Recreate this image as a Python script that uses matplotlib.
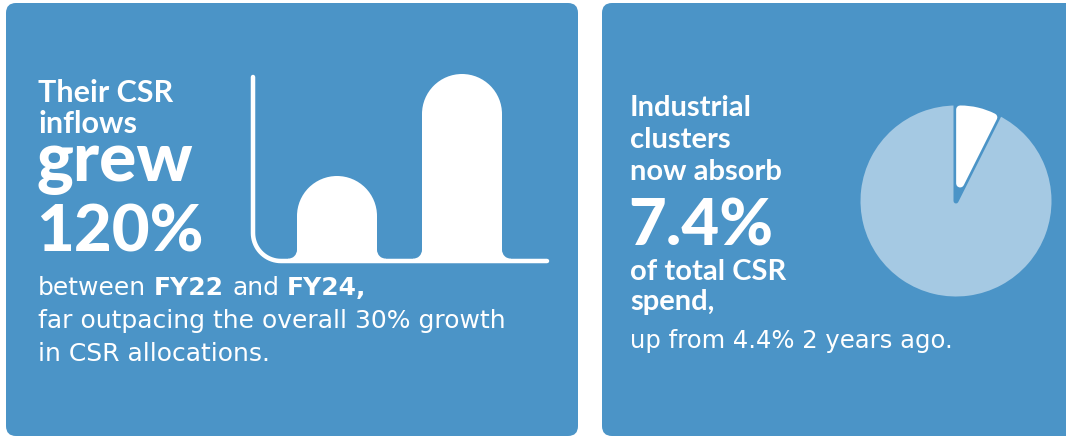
import numpy as np
import matplotlib
matplotlib.use("Agg")
import matplotlib.pyplot as plt
from matplotlib.patches import FancyBboxPatch, Ellipse, Rectangle

W, H, DPI = 1066, 438, 100
PANEL = "#4B94C7"
PIE_LIGHT = "#A5C9E3"
WHITE = "#FFFFFF"
HEAD_FONT = ["Lato", "DejaVu Sans"]
BODY_FONT = ["DejaVu Sans"]

# CSR inflows to the clusters, indexed to FY22 = 100 (grew 120%)
years = ["FY22", "FY24"]
inflow_index = [100, 220]

# share of total CSR spend absorbed by industrial clusters
cluster_share = 7.4
other_share = 100 - cluster_share

plt.rcParams["font.family"] = HEAD_FONT

fig = plt.figure(figsize=(W / DPI, H / DPI), dpi=DPI)
fig.patch.set_facecolor("white")

# canvas in pixel units for the two cards and all the copy
bg = fig.add_axes([0, 0, 1, 1])
bg.set_xlim(0, W)
bg.set_ylim(H, 0)
bg.axis("off")

for x0, x1 in [(6, 578), (602, 1090)]:
    bg.add_patch(FancyBboxPatch((x0, 3), x1 - x0, 433,
                                boxstyle="round,pad=0,rounding_size=10",
                                fc=PANEL, ec="none"))

renderer = fig.canvas.get_renderer()


def text_width(s, size, weight, family):
    t = bg.text(0, 0, s, fontsize=size, fontweight=weight, family=family)
    w = t.get_window_extent(renderer).width
    t.remove()
    return w


def write(x, y, parts, size, family=HEAD_FONT):
    """Draw a line made of (text, weight) runs, separated by spaces."""
    gap = (text_width("x x", size, "normal", family)
           - text_width("xx", size, "normal", family))
    for i, (s, weight) in enumerate(parts):
        bg.text(x, y, s, color=WHITE, fontsize=size, fontweight=weight,
                family=family, va="baseline", ha="left")
        x += text_width(s, size, weight, family) + gap


# left card copy
write(38, 102, [("Their CSR", "bold")], 22)
write(38, 133, [("inflows", "bold")], 22)
write(36, 181, [("grew", "black")], 50)
write(36, 252, [("120%", "black")], 47)
write(38, 295, [("between", "normal"), ("FY22", "bold"), ("and", "normal"),
                ("FY24,", "bold")], 18, BODY_FONT)
write(38, 328, [("far outpacing the overall 30% growth", "normal")], 18, BODY_FONT)
write(38, 361, [("in CSR allocations.", "normal")], 18, BODY_FONT)

# right card copy
write(630, 116, [("Industrial", "bold")], 21)
write(630, 148, [("clusters", "bold")], 21)
write(630, 180, [("now absorb", "bold")], 21)
write(628, 245, [("7.4%", "black")], 47)
write(630, 280, [("of total CSR", "bold")], 21)
write(630, 310, [("spend,", "bold")], 21)
write(630, 348, [("up from 4.4% 2 years ago.", "normal")], 17.5, BODY_FONT)

# --- bar chart: FY22 vs FY24 inflows with rounded tops ---
bx0, bx1, base_px, top_px = 253, 547, 261, 74
bax = fig.add_axes([bx0 / W, 1 - base_px / H, (bx1 - bx0) / W, (base_px - top_px) / H])
bax.set_xlim(-0.672, 1.68)
bax.set_ylim(0, max(inflow_index))
bax.axis("off")

o = bax.transData.transform((0, 0))
sx = bax.transData.transform((1, 0))[0] - o[0]   # px per x unit
sy = bax.transData.transform((0, 1))[1] - o[1]   # px per y unit

xs = np.arange(len(years))
vals = np.array(inflow_index, dtype=float)
bw = 0.64
ry = (bw / 2) * sx / sy
bax.bar(xs, vals - ry, width=bw, bottom=0, color=WHITE, clip_on=False)
for x, v in zip(xs, vals):
    bax.add_patch(Ellipse((x, v - ry), bw, 2 * ry, fc=WHITE, ec="none", clip_on=False))

# concave fillets where each bar meets the baseline
line_px = 4.5
f_px = 9
fx, fy, half = f_px / sx, f_px / sy, (line_px / 2) / sy
for x in xs:
    for s in (-1, 1):
        edge = x + s * bw / 2
        bax.add_patch(Rectangle((min(edge, edge + s * fx), 0), fx, half + fy,
                                fc=WHITE, ec="none", clip_on=False, zorder=3))
        bax.add_patch(Ellipse((edge + s * fx, half + fy), 2 * fx, 2 * fy,
                              fc=PANEL, ec="none", clip_on=False, zorder=4))

# axis line with a rounded corner
axis_top = (base_px - 77) / sy
R = 28
rx, ryc = R / sx, R / sy
xl, xr = bax.get_xlim()
t = np.linspace(np.pi, 1.5 * np.pi, 20)
arc_x = xl + rx + rx * np.cos(t)
arc_y = ryc + ryc * np.sin(t)
px = np.concatenate([[xl], arc_x, [xr]])
py = np.concatenate([[axis_top], arc_y, [0]])
bax.plot(px, py, color=WHITE, lw=line_px * 72 / DPI, solid_capstyle="round",
         solid_joinstyle="round", clip_on=False, zorder=5)

# --- pie: cluster share of total CSR spend ---
cx, cy, r_px = 956, 201, 98
pax = fig.add_axes([(cx - 1.25 * r_px) / W, 1 - (cy + 1.25 * r_px) / H,
                    2.5 * r_px / W, 2.5 * r_px / H])
wedges, _ = pax.pie([cluster_share, other_share], colors=[WHITE, PIE_LIGHT],
                    startangle=90, counterclock=False, explode=[18 / r_px, 0])
pax.set_xlim(-1.25, 1.25)
pax.set_ylim(-1.25, 1.25)
pax.set_aspect("equal")

wedges[1].set_edgecolor(PANEL)
wedges[1].set_linewidth(5 * 72 / DPI)
wedges[1].set_joinstyle("round")
wedges[0].set_radius((78 - 4) / r_px)
wedges[0].set_edgecolor(WHITE)
wedges[0].set_linewidth(8 * 72 / DPI)
wedges[0].set_joinstyle("round")
wedges[0].set_zorder(3)

fig.savefig("out.png", dpi=DPI, facecolor=fig.get_facecolor())
